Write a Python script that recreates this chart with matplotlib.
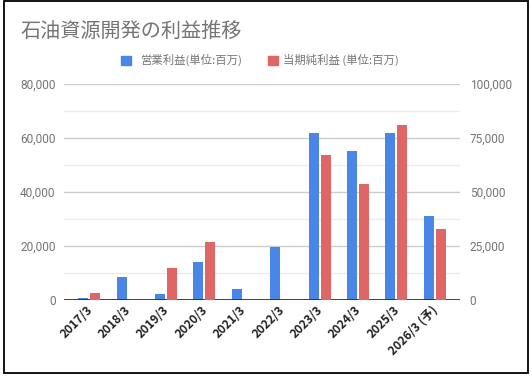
import numpy as np
import matplotlib.pyplot as plt
from matplotlib.patches import Rectangle
from matplotlib.ticker import FuncFormatter, MultipleLocator

# values in millions of yen
periods = ["2017/3", "2018/3", "2019/3", "2020/3", "2021/3",
           "2022/3", "2023/3", "2024/3", "2025/3", "2026/3 (予)"]
operating_profit = [850, 8500, 2200, 14100, 4100, 19600, 61700, 55000, 61700, 31000]
net_profit = [3240, 0, 14800, 26900, 0, 0, 67000, 53600, 81000, 32900]

BLUE = "#4a86e8"
RED = "#e06666"
GREY_TEXT = "#757575"
JP = ["Noto Sans CJK JP", "DejaVu Sans"]
NUM = ["Roboto", "DejaVu Sans"]

W, H = 532, 377
fig = plt.figure(figsize=(W / 100, H / 100), dpi=100)
ax = fig.add_axes([64 / W, 1 - 300 / H, (460 - 64) / W, (300 - 84) / H])
ax2 = ax.twinx()

x = np.arange(len(periods))
bar_w = 0.26
off = 0.157
ax.bar(x - off, operating_profit, width=bar_w, color=BLUE, zorder=3)
ax2.bar(x + off, net_profit, width=bar_w, color=RED, zorder=3)

pad = 6 / 38.3
ax.set_xlim(-0.5 - pad, len(periods) - 0.5 + pad)
ax.set_ylim(0, 80000)
ax2.set_ylim(0, 100000)

ax.yaxis.set_major_locator(MultipleLocator(20000))
ax.yaxis.set_minor_locator(MultipleLocator(10000))
ax2.yaxis.set_major_locator(MultipleLocator(25000))
fmt = FuncFormatter(lambda v, _: f"{v:,.0f}")
ax.yaxis.set_major_formatter(fmt)
ax2.yaxis.set_major_formatter(fmt)

ax.grid(which="major", axis="y", color="#cccccc", lw=1, zorder=0)
ax.grid(which="minor", axis="y", color="#ebebeb", lw=1, zorder=0)
ax.set_axisbelow(True)

for a in (ax, ax2):
    for s in a.spines.values():
        s.set_visible(False)
    a.tick_params(which="both", length=0)
ax.axhline(0, color="#333333", lw=1.3, zorder=4)

ax.tick_params(axis="y", colors=GREY_TEXT, pad=6)
ax2.tick_params(axis="y", colors=GREY_TEXT, pad=7)
for lab in ax.get_yticklabels() + ax2.get_yticklabels():
    lab.set_family(NUM)
    lab.set_fontsize(8.6)

ax.set_xticks(x + 0.03)
ax.set_xticklabels(periods, rotation=45, ha="right", va="center",
                   rotation_mode="anchor", fontsize=8.6, fontweight="bold",
                   family=JP, color="#222222")
ax.tick_params(axis="x", pad=6)

fig.text(20 / W, 1 - 31 / H, "石油資源開発の利益推移", family=JP,
         fontsize=14.5, color=GREY_TEXT, va="center", ha="left")

# legend
ly = 1 - 60 / H
fig.patches.append(Rectangle((121 / W, 1 - 65 / H), 9.5 / W, 9.5 / H,
                             transform=fig.transFigure, color=BLUE))
fig.text(141 / W, ly, "営業利益(単位:百万)", family=JP, fontsize=8.2,
         color=GREY_TEXT, va="center")
fig.patches.append(Rectangle((268 / W, 1 - 65 / H), 9.5 / W, 9.5 / H,
                             transform=fig.transFigure, color=RED))
fig.text(283 / W, ly, "当期純利益 (単位:百万)", family=JP, fontsize=8.2,
         color=GREY_TEXT, va="center")

# outer frame
fig.patches.append(Rectangle((3.5 / W, 1 - 373 / H), 524.5 / W, 372 / H,
                             transform=fig.transFigure, fill=False,
                             ec="black", lw=1.3))

fig.savefig("out.png", dpi=100)
